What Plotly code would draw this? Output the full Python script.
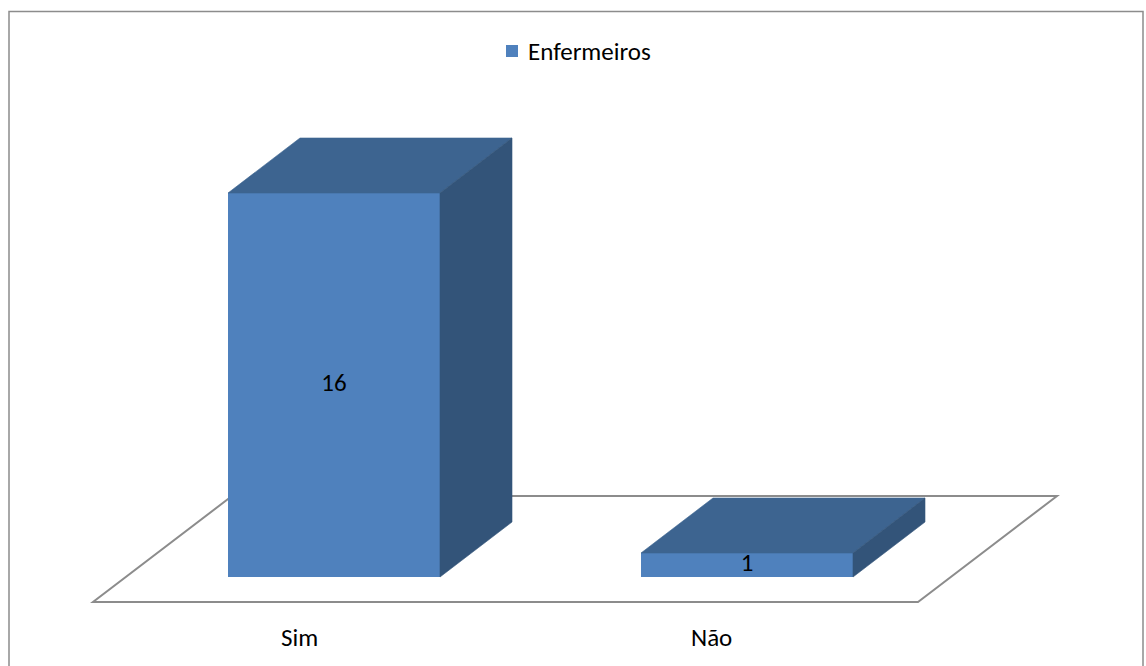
import plotly.graph_objects as go

# Survey answers (nurses)
categories = ["Sim", "Não"]
values = [16, 1]
series_name = "Enfermeiros"

W, H = 1146, 666

# Pixel layout of the pseudo-3D scene
X0_PX = 334.0        # centre of first bar's front face
STEP_PX = 413.0      # distance between categories
Y0_PX = 577.0        # baseline (value 0) of bar front faces
UNIT_PX = 24.0       # pixels per unit of value

def px_to_x(px):
    return (px - X0_PX) / STEP_PX

def py_to_y(py):
    return (Y0_PX - py) / UNIT_PX

BAR_W = 212.0 / STEP_PX          # front face width (x units)
DEPTH_DX = 72.0 / STEP_PX        # receding depth, horizontal part
DEPTH_DY = 55.0 / UNIT_PX        # receding depth, vertical part

FRONT = "#4F81BD"
TOP = "#3D6490"
SIDE = "#335479"
FLOOR_LINE = "#8C8C8C"
FONT = "Carlito, Calibri, Lato, sans-serif"
FS = 25

fig = go.Figure()

# Front faces of the bars
fig.add_trace(go.Bar(
    x=list(range(len(categories))), y=values, width=BAR_W,
    marker=dict(color=FRONT, line=dict(width=0)),
    name=series_name, showlegend=False, hoverinfo="skip",
))

# Top and side faces
for i, v in enumerate(values):
    xl, xr = i - BAR_W / 2, i + BAR_W / 2
    top_x = [xl, xr, xr + DEPTH_DX, xl + DEPTH_DX, xl]
    top_y = [v, v, v + DEPTH_DY, v + DEPTH_DY, v]
    fig.add_trace(go.Scatter(
        x=top_x, y=top_y, mode="lines", fill="toself", fillcolor=TOP,
        line=dict(color=TOP, width=0.6), showlegend=False, hoverinfo="skip",
    ))
    side_x = [xr, xr + DEPTH_DX, xr + DEPTH_DX, xr, xr]
    side_y = [0, DEPTH_DY, v + DEPTH_DY, v, 0]
    fig.add_trace(go.Scatter(
        x=side_x, y=side_y, mode="lines", fill="toself", fillcolor=SIDE,
        line=dict(color=SIDE, width=0.6), showlegend=False, hoverinfo="skip",
    ))

# Value labels in the middle of each front face
fig.add_trace(go.Scatter(
    x=list(range(len(categories))), y=[v / 2 for v in values],
    mode="text", text=[str(v) for v in values],
    textfont=dict(family=FONT, size=FS, color="#000000"),
    showlegend=False, hoverinfo="skip",
))

# Floor parallelogram (drawn beneath the bars)
fx_l, fx_r = px_to_x(93), px_to_x(918)
fy_front, fy_back = py_to_y(602), py_to_y(496)
fdx = 139.0 / STEP_PX
floor_path = (f"M {fx_l},{fy_front} L {fx_r},{fy_front} "
              f"L {fx_r + fdx},{fy_back} L {fx_l + fdx},{fy_back} Z")
fig.add_shape(type="path", path=floor_path, xref="x", yref="y",
              line=dict(color=FLOOR_LINE, width=2), fillcolor="rgba(0,0,0,0)",
              layer="below")

# Category labels along the front edge of the floor
cat_w = (fx_r - fx_l) / len(categories)
for i, c in enumerate(categories):
    fig.add_annotation(
        x=fx_l + cat_w * (i + 0.5), y=py_to_y(637), xref="x", yref="y",
        text=c, showarrow=False,
        font=dict(family=FONT, size=FS, color="#000000"),
    )

# Legend: colour key plus series name
fig.add_shape(type="rect", xref="paper", yref="paper",
              x0=506 / W, x1=518 / W, y0=1 - 57 / H, y1=1 - 45 / H,
              fillcolor=FRONT, line=dict(width=0))
fig.add_annotation(x=526 / W, y=1 - 51 / H, xref="paper", yref="paper",
                   xanchor="left", yanchor="middle", text=series_name,
                   showarrow=False,
                   font=dict(family=FONT, size=FS, color="#000000"))

# Chart border
fig.add_shape(type="rect", xref="paper", yref="paper",
              x0=9 / W, x1=1143 / W, y0=-0.05, y1=1 - 11.5 / H,
              line=dict(color="#8C8C8C", width=1.5), layer="above")

fig.update_layout(
    width=W, height=H,
    margin=dict(l=0, r=0, t=0, b=0),
    paper_bgcolor="white", plot_bgcolor="white",
    xaxis=dict(range=[px_to_x(0), px_to_x(W)], visible=False, fixedrange=True),
    yaxis=dict(range=[py_to_y(H), py_to_y(0)], visible=False, fixedrange=True),
    showlegend=False,
    font=dict(family=FONT),
)

fig.write_html("out.html")
